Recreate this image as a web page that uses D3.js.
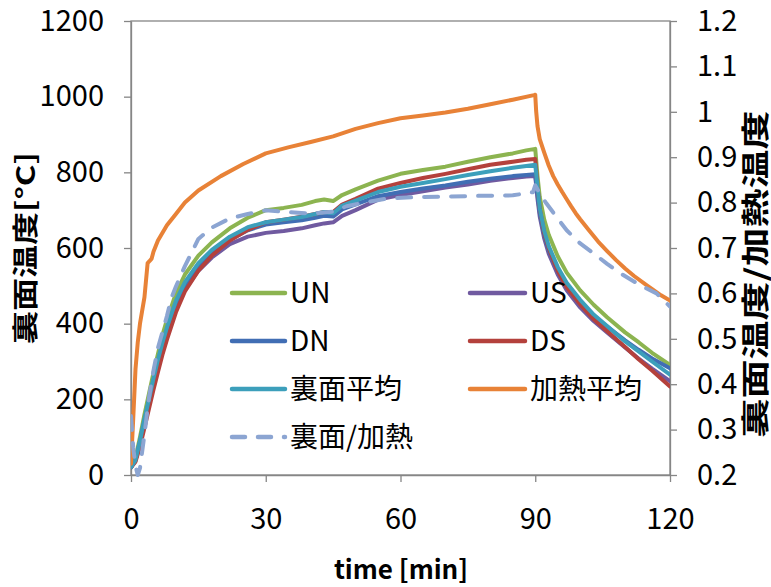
<!DOCTYPE html>
<html>
<head>
<meta charset="utf-8">
<script src="https://cdn.jsdelivr.net/npm/d3@7/dist/d3.min.js"></script>
<style>
  html, body { margin: 0; padding: 0; background: #fff; }
  svg { display: block; }
  text { font-family: "Noto Sans CJK JP", "Noto Sans", sans-serif; fill: #000; }
</style>
</head>
<body>
<svg id="chart" width="771" height="587"></svg>
<script>
// ---- data ----
// back-side thermocouples, sampled at common times [min]
const backTime = [0,1,2,3,4,5,6,7,8,10,12,15,18,22,26,30,34,38,41,43,45,47,50,55,60,65,70,75,80,85,88,90,
                  90.5,91,92,93,95,97,100,103,106,110,113,116,120];
const UN  = [20,45,100,160,215,270,320,370,410,480,530,580,615,652,680,700,706,714,724,728,724,740,755,778,796,806,815,828,840,850,858,862,
             790,735,675,635,578,535,488,450,417,377,351,323,291];
const US  = [20,38,85,140,190,240,288,332,370,440,490,540,575,610,630,640,645,652,660,665,668,685,700,728,740,750,760,768,778,785,789,790,
             730,683,625,585,530,488,443,407,377,337,308,281,248];
const DN  = [20,40,88,145,198,250,298,343,382,452,502,552,587,622,647,662,668,673,680,685,683,702,715,737,748,757,765,775,783,790,793,795,
             742,693,635,595,540,498,458,420,392,356,331,308,282];
const DS  = [20,35,75,125,175,225,272,318,358,430,485,540,580,620,648,668,675,683,690,695,695,715,730,757,772,785,796,808,820,828,833,835,
             762,705,640,600,540,496,451,412,380,338,306,276,234];
const backAvg = [20,40,90,148,200,255,305,350,390,460,510,560,595,630,655,668,675,682,690,695,692,712,725,748,762,772,782,793,803,812,817,820,
             762,705,645,605,550,508,463,424,394,353,327,300,265];

// heated-side average
const heatTime = [0,0.5,1,1.5,2,3,3.7,4.1,4.6,5,6,8,10,12,15,20,25,30,35,40,45,50,55,60,65,70,75,80,85,89.7,90,
                  90.2,90.5,91,92,93,94,95,96,97,98,99,100,102,104,106,108,110,112,115,118,120];
const heatAvg  = [30,150,280,350,400,470,560,565,572,590,620,660,690,720,752,790,822,850,866,880,895,915,930,943,950,958,968,980,992,1004,1005,
                  962,922,888,852,818,790,768,748,729,710,692,676,646,617,592,568,546,526,500,475,461];

// ratio back / heated (secondary axis)
const ratioTime = [0,0.5,1,1.5,2,3,4,5,6,7,8,9,10,12,15,18,22,26,30,35,40,45,48,52,57,63,70,78,85,89.5,90,
                   91,92.5,95,97,100,103,106,109,113,117,120];
const ratio     = [0.33,0.26,0.22,0.2,0.215,0.29,0.37,0.43,0.48,0.515,0.55,0.59,0.615,0.66,0.72,0.745,0.765,0.775,0.783,0.779,0.776,0.78,0.792,0.8,0.809,0.812,0.813,0.815,0.816,0.823,0.838,
                   0.82,0.798,0.765,0.739,0.71,0.688,0.665,0.644,0.62,0.6,0.571];

const xTicks = [0,30,60,90,120];
const yTicks = [0,200,400,600,800,1000,1200];
const y2Ticks = [0.2,0.3,0.4,0.5,0.6,0.7,0.8,0.9,1,1.1,1.2];

const seriesNames = ["UN","US","DN","DS","裏面平均","加熱平均","裏面/加熱"];
const seriesColors = ["#8CB450","#705AA0","#416EB4","#B4413C","#3C9FBB","#E88237","#8CA5D2"];

// ---- layout ----
const svg = d3.select("#chart");
const L = 131, R = 670, T = 21, B = 475;

const x = d3.scaleLinear().domain([0,120]).range([L,R]);
const y = d3.scaleLinear().domain([0,1200]).range([B,T]);
const y2 = d3.scaleLinear().domain([0.2,1.2]).range([B,T]);

const axisColor = "#868686";

svg.append("defs").append("clipPath").attr("id","plotClip")
  .append("rect").attr("x",L).attr("y",T-2).attr("width",R-L).attr("height",B-T+4);

// plot frame
svg.append("rect").attr("x",L).attr("y",T).attr("width",R-L).attr("height",B-T)
  .attr("fill","none").attr("stroke",axisColor).attr("stroke-width",1.3);

function styleAxis(g) {
  g.selectAll(".domain").attr("stroke",axisColor).attr("stroke-width",1.3);
  g.selectAll(".tick line").attr("stroke",axisColor).attr("stroke-width",1.3);
  g.selectAll(".tick text").attr("font-size",29).attr("font-family",'"Noto Sans CJK JP", sans-serif').attr("fill","#000");
}

svg.append("g").attr("transform",`translate(${L},0)`)
  .call(d3.axisLeft(y).tickValues(yTicks).tickSize(7).tickSizeOuter(0).tickPadding(20).tickFormat(d3.format("d")))
  .call(styleAxis);

svg.append("g").attr("transform",`translate(0,${B})`)
  .call(d3.axisBottom(x).tickValues(xTicks).tickSize(7).tickSizeOuter(0).tickPadding(26).tickFormat(d3.format("d")))
  .call(styleAxis);

svg.append("g").attr("transform",`translate(${R},0)`)
  .call(d3.axisRight(y2).tickValues(y2Ticks).tickSize(7).tickSizeOuter(0).tickPadding(20).tickFormat(d => String(+d.toFixed(1))))
  .call(styleAxis);

// ---- lines ----
const plot = svg.append("g").attr("clip-path","url(#plotClip)");
const lineBack = d3.line().x((d,i) => x(backTime[i])).y(d => y(d));
const lineHeat = d3.line().x((d,i) => x(heatTime[i])).y(d => y(d));
const lineRatio = d3.line().x((d,i) => x(ratioTime[i])).y(d => y2(d));

const backSeries = [UN, US, DN, DS, backAvg];
backSeries.forEach((s, k) => {
  plot.append("path").attr("d", lineBack(s))
    .attr("fill","none").attr("stroke",seriesColors[k]).attr("stroke-width",4)
    .attr("stroke-linejoin","round").attr("stroke-linecap","round");
});
plot.append("path").attr("d", lineHeat(heatAvg))
  .attr("fill","none").attr("stroke",seriesColors[5]).attr("stroke-width",4)
  .attr("stroke-linejoin","round").attr("stroke-linecap","round");
plot.append("path").attr("d", lineRatio(ratio))
  .attr("fill","none").attr("stroke",seriesColors[6]).attr("stroke-width",4)
  .attr("stroke-dasharray","14,13").attr("stroke-linejoin","round").attr("stroke-linecap","round");

// ---- legend ----
const legendItems = [
  {k:0, x0:232, x1:285, tx:290, cy:293},
  {k:1, x0:470, x1:525, tx:530, cy:293},
  {k:2, x0:232, x1:285, tx:290, cy:341},
  {k:3, x0:470, x1:525, tx:530, cy:341},
  {k:4, x0:232, x1:285, tx:290, cy:389},
  {k:5, x0:470, x1:525, tx:530, cy:389},
  {k:6, x0:232, x1:285, tx:290, cy:437}
];
const lg = svg.append("g");
legendItems.forEach(it => {
  const ln = lg.append("line").attr("x1",it.x0).attr("x2",it.x1).attr("y1",it.cy).attr("y2",it.cy)
    .attr("stroke",seriesColors[it.k]).attr("stroke-width",4.5).attr("stroke-linecap","round");
  if (it.k === 6) ln.attr("stroke-dasharray","13,13");
  lg.append("text").attr("x",it.tx).attr("y",it.cy).attr("dy","0.36em")
    .attr("font-size",28).text(seriesNames[it.k]);
});

// ---- axis titles ----
svg.append("text").attr("transform","translate(26,248) scale(0.78,1) rotate(-90)")
  .attr("text-anchor","middle").attr("dy","0.36em").attr("font-weight","bold").attr("font-size",33)
  .text("裏面温度[°C]");
svg.append("text").attr("transform","translate(756,274) scale(0.72,1) rotate(-90)")
  .attr("text-anchor","middle").attr("dy","0.36em").attr("font-weight","bold").attr("font-size",39)
  .text("裏面温度/加熱温度");
svg.append("text").attr("x",401).attr("y",570).attr("dy","0.36em")
  .attr("text-anchor","middle").attr("font-weight","bold").attr("font-size",26)
  .text("time [min]");
</script>
</body>
</html>
